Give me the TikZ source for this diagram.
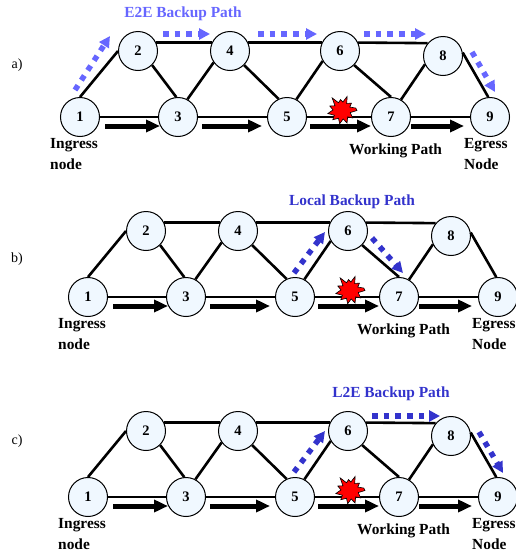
\documentclass[tikz,border=0pt]{standalone}
\usepackage{fontspec}
\setmainfont{Liberation Serif}
\usetikzlibrary{arrows.meta,calc}
\definecolor{nodefill}{HTML}{F0F8FF}
\definecolor{lightblue}{HTML}{6666FF}
\definecolor{deepblue}{HTML}{3333CC}
\tikzset{
  netnode/.style={circle,draw=black,line width=1pt,fill=nodefill,minimum size=39pt,inner sep=0pt,font=\fontsize{14.5}{14.5}\selectfont\bfseries},
  link/.style={line width=2.6pt,black},
  workarrow/.style={line width=5pt,black,-{Triangle[length=14pt,width=12pt]}},
  backup/.style={line width=5.5pt,dash pattern=on 5.5pt off 6.2pt,-{Triangle[length=11pt,width=11pt]}},
  caption/.style={anchor=west,inner sep=0pt,font=\fontsize{15.4}{15.4}\selectfont\bfseries},
  pathname/.style={anchor=center,inner sep=0pt,font=\fontsize{15.4}{15.4}\selectfont\bfseries},
  panelname/.style={anchor=center,inner sep=0pt,font=\fontsize{14}{14}\selectfont},
  burstshape/.style={fill=red,draw=black,line width=0.6pt}
}
% #1 panel prefix, #2 x shift, #3 y shift
\newcommand{\netpanel}[3]{%
  \begin{scope}[shift={(#2,#3)}]
    \node[netnode] (#11) at (80,117) {1};
    \node[netnode] (#12) at (138,51) {2};
    \node[netnode] (#13) at (178,117) {3};
    \node[netnode] (#14) at (230,51) {4};
    \node[netnode] (#15) at (287,117) {5};
    \node[netnode] (#16) at (340,51) {6};
    \node[netnode] (#17) at (391,117) {7};
    \node[netnode] (#18) at (443,56) {8};
    \node[netnode] (#19) at (490,117) {9};
    \draw[link] (#11.90) -- (#12.180);
    \draw[link] (#12.-45) -- (#13.95);
    \draw[link] (#13.62) -- (#14.-145);
    \draw[link] (#14.-45) -- (#15.115);
    \draw[link] (#15.62) -- (#16.-150);
    \draw[link] (#16.-45) -- (#17.90);
    \draw[link] (#17.60) -- (#18.-155);
    \draw[link] (#18.10) -- (#19.95);
    \draw[link] (#12.25) -- (#14.155);
    \draw[link] (#14.25) -- (#16.155);
    \draw[link] (#16.25) -- (#18.140);
    \draw[link] (#11) -- (#13);
    \draw[link] (#13) -- (#15);
    \draw[link] (#15) -- (#17);
    \draw[link] (#17) -- (#19);
    \coordinate (#1wa) at (105,126); \coordinate (#1wb) at (160,126);
    \coordinate (#1wc) at (202,126); \coordinate (#1wd) at (262,126);
    \coordinate (#1we) at (310,126); \coordinate (#1wf) at (371,126);
    \coordinate (#1wg) at (411,126); \coordinate (#1wh) at (464,126);
    \draw[workarrow] (#1wa) -- (#1wb);
    \draw[workarrow] (#1wc) -- (#1wd);
    \draw[workarrow] (#1we) -- (#1wf);
    \draw[workarrow] (#1wg) -- (#1wh);
    \draw[burstshape,shift={(342,110.5)}]
      (0:15) -- (14:8.5) -- (35:13) -- (48:8.5) -- (68:13.5) -- (82:8.5) -- (100:13.5)
      -- (114:8.5) -- (135:13) -- (148:9) -- (168:14.5) -- (184:9) -- (200:13)
      -- (214:8.5) -- (232:16) -- (246:8.5) -- (262:11) -- (276:8.5) -- (290:15)
      -- (304:8.5) -- (322:12) -- (336:8.5) -- (350:14) -- cycle;
    \node[caption] (#1ing) at (50,145) {Ingress};
    \node[caption] (#1ind) at (50,164) {node};
    \node[caption] (#1wp) at (349,151) {Working Path};
    \node[caption] (#1eg) at (464,145) {Egress};
    \node[caption] (#1en) at (464,164) {Node};
  \end{scope}}
\begin{document}
\begin{tikzpicture}[x=1pt,y=-1pt]
\useasboundingbox (0,0) rectangle (515,552);
\netpanel{a}{0}{0}
\netpanel{b}{8}{180}
\netpanel{c}{8}{380}
\node[panelname] (la) at (17,65) {a)};
\node[panelname] (lb) at (17,259) {b)};
\node[panelname] (lc) at (17,441) {c)};
\node[pathname,text=lightblue] (ta) at (183,14) {E2E Backup Path};
\node[pathname,text=deepblue] (tb) at (352,202) {Local Backup Path};
\node[pathname,text=deepblue] (tc) at (391,394) {L2E Backup Path};
% panel a backup path
\coordinate (p1) at (75,90); \coordinate (p2) at (110,36);
\coordinate (p3) at (163,34); \coordinate (p4) at (210,34);
\coordinate (p5) at (258,34); \coordinate (p6) at (317,34);
\coordinate (p7) at (364,34); \coordinate (p8) at (426,34);
\coordinate (p9) at (472,52); \coordinate (p10) at (495,92);
\draw[backup,lightblue] (p1) -- (p2);
\draw[backup,lightblue] (p3) -- (p4);
\draw[backup,lightblue] (p5) -- (p6);
\draw[backup,lightblue] (p7) -- (p8);
\draw[backup,lightblue] (p9) -- (p10);
% panel b backup path
\coordinate (q1) at (294,273); \coordinate (q2) at (325,232);
\coordinate (q3) at (372,238); \coordinate (q4) at (403,273);
\draw[backup,deepblue] (q1) -- (q2);
\draw[backup,deepblue] (q3) -- (q4);
% panel c backup path
\coordinate (r1) at (294,472); \coordinate (r2) at (325,431);
\coordinate (r3) at (372,416); \coordinate (r4) at (440,416);
\coordinate (r5) at (479,432); \coordinate (r6) at (503,473);
\draw[backup,deepblue] (r1) -- (r2);
\draw[backup,deepblue] (r3) -- (r4);
\draw[backup,deepblue] (r5) -- (r6);
\end{tikzpicture}
\end{document}
